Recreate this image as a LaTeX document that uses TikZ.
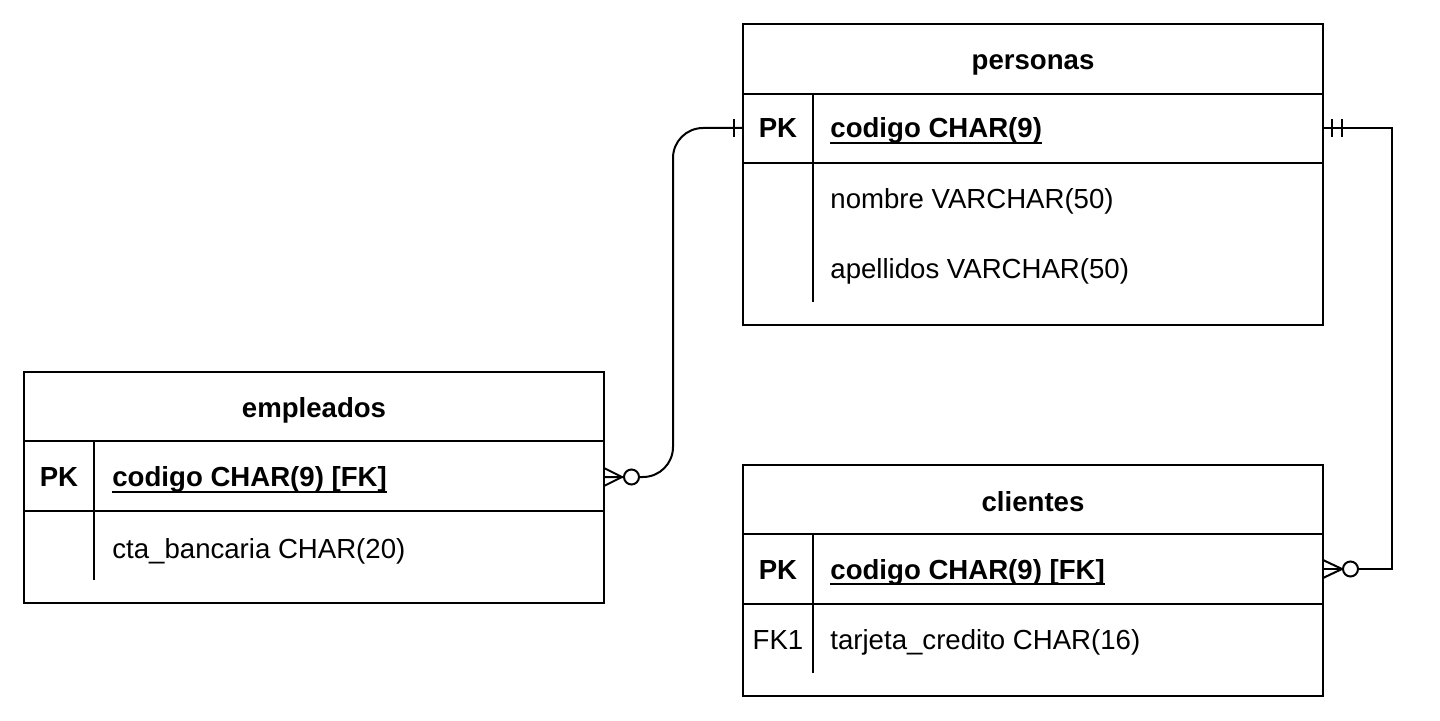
\documentclass[tikz,border=0pt]{standalone}
\usepackage{fontspec}
\setmainfont{Liberation Sans}
\newcommand{\ulx}[1]{\setbox0=\hbox{#1}\rlap{\rule[-3pt]{\wd0}{1pt}}\box0}
\tikzset{
  txt/.style={inner sep=0pt, font=\fontsize{13.8}{16}\selectfont},
  title/.style={txt, anchor=base, font=\fontsize{13.8}{16}\selectfont\bfseries},
  keycol/.style={txt, anchor=base},
  boldkey/.style={keycol, font=\fontsize{13.8}{16}\selectfont\bfseries},
  field/.style={txt, anchor=base west},
  pkfield/.style={field, font=\fontsize{13.8}{16}\selectfont\bfseries},
  tbl/.style={draw=black, line width=1pt},
  conn/.style={draw=black, line width=1pt},
  zerocirc/.style={draw=black, fill=white, line width=1pt}
}
\begin{document}
\begin{tikzpicture}[x=0.5pt,y=-0.5pt]
\useasboundingbox[fill=white] (0,0) rectangle (1440,721);

% personas
\draw[tbl] (743,24) rectangle (1323,325);
\draw[tbl] (743,94) -- (1323,94) (743,163) -- (1323,163) (813,94) -- (813,302);
\node[title] (pT) at (1033,70) {personas};
\node[boldkey] (pPK) at (778,138) {PK};
\node[pkfield] (pK) at (830,138) {\ulx{codigo CHAR(9)}};
\node[field] (pN) at (830,209) {nombre VARCHAR(50)};
\node[field] (pA) at (830,279) {apellidos VARCHAR(50)};
\coordinate (pL) at (743,128);
\coordinate (pR) at (1323,128);

% empleados
\draw[tbl] (24,372) rectangle (604,603);
\draw[tbl] (24,441) -- (604,441) (24,511) -- (604,511) (94,441) -- (94,580);
\node[title] (eT) at (314,418) {empleados};
\node[boldkey] (ePK) at (59,487) {PK};
\node[pkfield] (eK) at (112,487) {\ulx{codigo CHAR(9) [FK]}};
\node[field] (eC) at (112,558) {cta\_bancaria CHAR(20)};
\coordinate (eR) at (604,477);

% clientes
\draw[tbl] (743,465) rectangle (1323,696);
\draw[tbl] (743,534) -- (1323,534) (743,604) -- (1323,604) (813,534) -- (813,673);
\node[title] (cT) at (1033,511) {clientes};
\node[boldkey] (cPK) at (778,579) {PK};
\node[pkfield] (cK) at (830,579) {\ulx{codigo CHAR(9) [FK]}};
\node[keycol] (cFK) at (778,649) {FK1};
\node[field] (cTj) at (830,649) {tarjeta\_credito CHAR(16)};
\coordinate (cR) at (1323,569);

% connector personas -> empleados
\draw[conn, rounded corners=15] (pL) -- (673,128) -- (673,477) -- (eR);
\draw[conn] (734,119) -- (734,137);
\draw[conn] (604,468) -- (622,477) -- (604,486);
\draw[zerocirc] (631.5,477) circle[radius=7.5];

% connector personas -> clientes
\draw[conn] (pR) -- (1392,128) -- (1392,569) -- (cR);
\draw[conn] (1332,119) -- (1332,137) (1342,119) -- (1342,137);
\draw[conn] (1323,560) -- (1342,569) -- (1323,578);
\draw[zerocirc] (1350.5,569) circle[radius=7.5];
\end{tikzpicture}
\end{document}
